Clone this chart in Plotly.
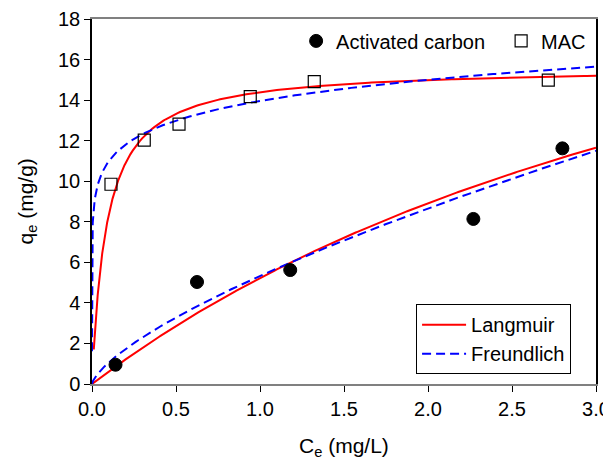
import numpy as np
import plotly.graph_objects as go

# Measured data
ac_ce = [0.14, 0.625, 1.18, 2.27, 2.80]
ac_qe = [0.95, 5.03, 5.62, 8.14, 11.62]
mac_ce = [0.113, 0.311, 0.518, 0.942, 1.323, 2.716]
mac_qe = [9.85, 12.03, 12.82, 14.17, 14.91, 14.99]

# Fitted isotherm parameters
lang_ac = {"qm": 30.3, "K": 0.2084}
lang_mac = {"qm": 15.64, "K": 11.5}
freu_ac = {"Kf": 5.33, "n_inv": 0.70}
freu_mac = {"Kf": 13.96, "n_inv": 0.104}

x_ticks = [0.0, 0.5, 1.0, 1.5, 2.0, 2.5, 3.0]
y_ticks = [0, 2, 4, 6, 8, 10, 12, 14, 16, 18]
x_title = "C<sub>e</sub> (mg/L)"
y_title = "q<sub>e</sub> (mg/g)"


def langmuir(c, p):
    c = np.asarray(c)
    return p["qm"] * p["K"] * c / (1 + p["K"] * c)


def freundlich(c, p):
    c = np.asarray(c)
    return p["Kf"] * c ** p["n_inv"]


c_lin = np.linspace(0, 3, 301)
c_mac_l = np.concatenate([np.linspace(0.0106, 0.2, 200), np.linspace(0.2, 3, 200)])
c_mac_f = np.concatenate([np.logspace(-9, -1, 200), np.linspace(0.1, 3, 200)])
c_ac_f = np.concatenate([np.logspace(-4, -1, 60), np.linspace(0.1, 3, 200)])

RED = "#ff0000"
BLUE = "#0000ff"
FONT = "Liberation Sans, Arial, sans-serif"

fig = go.Figure()

# fitted curves
fig.add_trace(go.Scatter(x=c_lin, y=langmuir(c_lin, lang_ac), mode="lines",
                         line=dict(color=RED, width=2), name="Langmuir",
                         legend="legend2", showlegend=True))
fig.add_trace(go.Scatter(x=c_mac_l, y=langmuir(c_mac_l, lang_mac), mode="lines",
                         line=dict(color=RED, width=2), name="Langmuir",
                         legend="legend2", showlegend=False))
fig.add_trace(go.Scatter(x=c_ac_f, y=freundlich(c_ac_f, freu_ac), mode="lines",
                         line=dict(color=BLUE, width=2, dash="9px,5px"), name="Freundlich",
                         legend="legend2", showlegend=True))
fig.add_trace(go.Scatter(x=c_mac_f, y=freundlich(c_mac_f, freu_mac), mode="lines",
                         line=dict(color=BLUE, width=2, dash="9px,5px"), name="Freundlich",
                         legend="legend2", showlegend=False))

# data points
fig.add_trace(go.Scatter(x=ac_ce, y=ac_qe, mode="markers", name="Activated carbon",
                         marker=dict(symbol="circle", size=13, color="black",
                                     line=dict(color="black", width=1)),
                         legend="legend"))
fig.add_trace(go.Scatter(x=mac_ce, y=mac_qe, mode="markers", name="MAC",
                         marker=dict(symbol="square-open", size=12, color="black",
                                     line=dict(color="black", width=1.2)),
                         legend="legend"))

fig.update_layout(
    width=603, height=451,
    margin=dict(l=84, r=15, t=11, b=75, autoexpand=False),
    paper_bgcolor="white", plot_bgcolor="white",
    font=dict(family=FONT, size=20, color="black"),
    legend=dict(orientation="h", xref="paper", yref="paper",
                x=0.405, y=0.94, xanchor="left", yanchor="middle",
                bgcolor="rgba(0,0,0,0)", borderwidth=0, font=dict(size=20),
                entrywidth=160, entrywidthmode="pixels", itemsizing="trace"),
    legend2=dict(orientation="v", xref="paper", yref="paper",
                 x=0.643, y=0.027, xanchor="left", yanchor="bottom",
                 bgcolor="white", bordercolor="black", borderwidth=1,
                 itemwidth=44, font=dict(size=20)),
    xaxis=dict(range=[0, 3], tickvals=x_ticks, ticktext=[f"{v:.1f}" for v in x_ticks],
               automargin=False,
               showgrid=False, zeroline=False, showline=True, linecolor="#808080",
               linewidth=1.5, mirror=True, ticks="outside", ticklen=6,
               tickcolor="black", tickfont=dict(size=20)),
    yaxis=dict(range=[0, 18], tickvals=y_ticks, showgrid=False, zeroline=False,
               automargin=False,
               showline=True, linecolor="black", linewidth=1.5, mirror=True,
               ticks="outside", ticklen=6, tickcolor="black", tickfont=dict(size=20)),
    annotations=[
        dict(text=x_title, xref="paper", yref="paper", x=0.5, y=0,
             xanchor="center", yanchor="top", yshift=-48, showarrow=False,
             font=dict(size=21)),
        dict(text=y_title, xref="paper", yref="paper", x=0, y=0.5,
             xanchor="center", yanchor="middle", xshift=-66, textangle=-90,
             showarrow=False, font=dict(size=21)),
    ],
)

fig.write_html("out.html")
